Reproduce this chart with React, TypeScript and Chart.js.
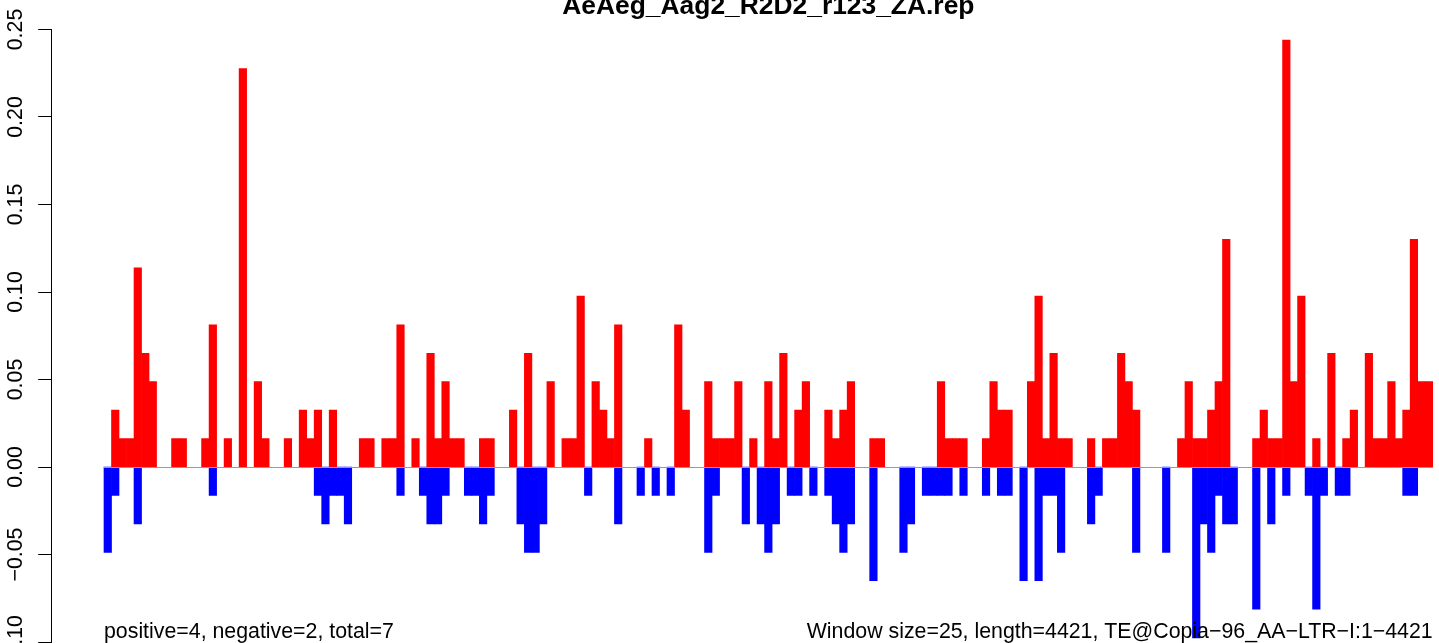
import React, { useEffect, useRef } from 'react';
import { Chart, registerables } from 'chart.js';

Chart.register(...registerables);

const TITLE = 'AeAeg_Aag2_R2D2_r123_ZA.rep';
const LEFT_NOTE = 'positive=4, negative=2, total=7';
const RIGHT_NOTE = 'Window size=25, length=4421, TE@Copia\u221296_AA\u2212LTR\u2212I:1\u22124421';

// 177 windows of 25 nt over the 4421 nt element (window index on the x axis)
const WINDOW_COUNT = 177;
const windowIndex = Array.from({ length: WINDOW_COUNT }, (_, i) => i);

// Y axis ticks
const yMin = -0.1;
const yMax = 0.25;
const yStep = 0.05;

// Positive-strand values per window
const positiveValues = [
  0, 0.0325, 0.0163, 0.0163, 0.1138, 0.065, 0.0488, 0, 0, 0.0163,
  0.0163, 0, 0, 0.0163, 0.0813, 0, 0.0163, 0, 0.2276, 0,
  0.0488, 0.0163, 0, 0, 0.0163, 0, 0.0325, 0.0163, 0.0325, 0,
  0.0325, 0, 0, 0, 0.0163, 0.0163, 0, 0.0163, 0.0163, 0.0813,
  0, 0.0163, 0, 0.065, 0.0163, 0.0488, 0.0163, 0.0163, 0, 0,
  0.0163, 0.0163, 0, 0, 0.0325, 0, 0.065, 0, 0, 0.0488,
  0, 0.0163, 0.0163, 0.0976, 0, 0.0488, 0.0325, 0.0163, 0.0813, 0,
  0, 0, 0.0163, 0, 0, 0, 0.0813, 0.0325, 0, 0,
  0.0488, 0.0163, 0.0163, 0.0163, 0.0488, 0, 0.0163, 0, 0.0488, 0.0163,
  0.065, 0, 0.0325, 0.0488, 0, 0, 0.0325, 0.0163, 0.0325, 0.0488,
  0, 0, 0.0163, 0.0163, 0, 0, 0, 0, 0, 0,
  0, 0.0488, 0.0163, 0.0163, 0.0163, 0, 0, 0.0163, 0.0488, 0.0325,
  0.0325, 0, 0, 0.0488, 0.0976, 0.0163, 0.065, 0.0163, 0.0163, 0,
  0, 0.0163, 0, 0.0163, 0.0163, 0.065, 0.0488, 0.0325, 0, 0,
  0, 0, 0, 0.0163, 0.0488, 0.0163, 0.0163, 0.0325, 0.0488, 0.1301,
  0, 0, 0, 0.0163, 0.0325, 0.0163, 0.0163, 0.2439, 0.0488, 0.0976,
  0, 0.0163, 0, 0.065, 0, 0.0163, 0.0325, 0, 0.065, 0.0163,
  0.0163, 0.0488, 0.0163, 0.0325, 0.1301, 0.0488, 0.0488,
];

// Negative-strand values per window
const negativeValues = [
  -0.0488, -0.0163, 0, 0, -0.0325, 0, 0, 0, 0, 0,
  0, 0, 0, 0, -0.0163, 0, 0, 0, 0, 0,
  0, 0, 0, 0, 0, 0, 0, 0, -0.0163, -0.0325,
  -0.0163, -0.0163, -0.0325, 0, 0, 0, 0, 0, 0, -0.0163,
  0, 0, -0.0163, -0.0325, -0.0325, -0.0163, 0, 0, -0.0163, -0.0163,
  -0.0325, -0.0163, 0, 0, 0, -0.0325, -0.0488, -0.0488, -0.0325, 0,
  0, 0, 0, 0, -0.0163, 0, 0, 0, -0.0325, 0,
  0, -0.0163, 0, -0.0163, 0, -0.0163, 0, 0, 0, 0,
  -0.0488, -0.0163, 0, 0, 0, -0.0325, 0, -0.0325, -0.0488, -0.0325,
  0, -0.0163, -0.0163, 0, -0.0163, 0, -0.0163, -0.0325, -0.0488, -0.0325,
  0, 0, -0.065, 0, 0, 0, -0.0488, -0.0325, 0, -0.0163,
  -0.0163, -0.0163, -0.0163, 0, -0.0163, 0, 0, -0.0163, 0, -0.0163,
  -0.0163, 0, -0.065, 0, -0.065, -0.0163, -0.0163, -0.0488, 0, 0,
  0, -0.0325, -0.0163, 0, 0, 0, 0, -0.0488, 0, 0,
  0, -0.0488, 0, 0, 0, -0.0976, -0.0325, -0.0488, -0.0163, -0.0325,
  -0.0325, 0, 0, -0.0813, 0, -0.0325, 0, -0.0163, 0, 0,
  -0.0163, -0.0813, -0.0163, 0, -0.0163, -0.0163, 0, 0, 0, 0,
  0, 0, 0, -0.0163, -0.0163, 0, 0,
];

const FONT_FAMILY = '"Liberation Sans", Arial, Helvetica, sans-serif';

const annotatePlugin = {
  id: 'annotate',
  afterDatasetsDraw(chart: any) {
    const { ctx, scales } = chart;
    const x = scales.x;
    const y = scales.y;
    const x0 = x.getPixelForValue(-0.5);
    const x1 = x.getPixelForValue(WINDOW_COUNT - 0.5);
    const y0 = Math.round(y.getPixelForValue(0)) + 0.5;
    ctx.save();
    ctx.strokeStyle = '#9a9a9a';
    ctx.lineWidth = 1;
    ctx.beginPath();
    ctx.moveTo(x0, y0);
    ctx.lineTo(x1, y0);
    ctx.stroke();
    ctx.restore();
  },
  afterDraw(chart: any) {
    const { ctx, scales } = chart;
    const x = scales.x;
    const x0 = x.getPixelForValue(-0.5);
    const x1 = x.getPixelForValue(WINDOW_COUNT - 0.5);
    ctx.save();
    ctx.fillStyle = '#000';
    ctx.textBaseline = 'alphabetic';
    ctx.font = `bold 26.4px ${FONT_FAMILY}`;
    ctx.textAlign = 'center';
    ctx.fillText(TITLE, (x0 + x1) / 2, 14);
    ctx.font = `21.33px ${FONT_FAMILY}`;
    ctx.textAlign = 'left';
    ctx.fillText(LEFT_NOTE, x0, 638);
    ctx.textAlign = 'right';
    ctx.fillText(RIGHT_NOTE, x1, 638);
    ctx.restore();
  },
};

export default function App() {
  const canvasRef = useRef<HTMLCanvasElement | null>(null);

  useEffect(() => {
    const canvas = canvasRef.current;
    if (!canvas) return;
    const chart = new Chart(canvas, {
      type: 'bar',
      data: {
        datasets: [
          {
            label: 'positive',
            data: windowIndex.map((w, i) => ({ x: w, y: positiveValues[i] === 0 ? null : positiveValues[i] })),
            backgroundColor: '#ff0000',
            borderWidth: 0,
            grouped: false,
            barPercentage: 1,
            categoryPercentage: 1,
          } as any,
          {
            label: 'negative',
            data: windowIndex.map((w, i) => ({ x: w, y: negativeValues[i] === 0 ? null : negativeValues[i] })),
            backgroundColor: '#0000ff',
            borderWidth: 0,
            grouped: false,
            barPercentage: 1,
            categoryPercentage: 1,
          } as any,
        ],
      },
      options: {
        animation: false,
        responsive: false,
        devicePixelRatio: 1,
        layout: { padding: { top: 29.5, bottom: 1, left: 0, right: 0 } },
        plugins: {
          legend: { display: false },
          tooltip: { enabled: false },
          title: { display: false },
        },
        scales: {
          x: {
            type: 'linear',
            min: -7.56,
            max: 177.34,
            offset: false,
            bounds: 'data',
            grace: 0,
            display: false,
          },
          y: {
            type: 'linear',
            min: yMin,
            max: yMax,
            afterFit(scale: any) {
              scale.width = 51;
              scale.paddingTop = 0;
              scale.paddingBottom = 0;
            },
            ticks: {
              stepSize: yStep,
              minRotation: 90,
              maxRotation: 90,
              crossAlign: 'center',
              padding: -4.6,
              color: '#000',
              font: { family: FONT_FAMILY, size: 21.33 },
              callback: (v: any) => {
                const n = Math.abs(Number(v)) < 1e-9 ? 0 : Number(v);
                return n.toFixed(2).replace('-', '\u2212');
              },
            },
            grid: {
              display: true,
              drawOnChartArea: false,
              drawTicks: true,
              tickLength: 12.8,
              color: '#000',
              lineWidth: 1,
            },
            border: { display: true, color: '#000', width: 1 },
          },
        } as any,
      },
      plugins: [annotatePlugin],
    });
    return () => chart.destroy();
  }, []);

  return (
    <div style={{ position: 'fixed', left: 0, top: 0, width: 1439, height: 643, background: '#fff' }}>
      <canvas ref={canvasRef} width={1439} height={643} style={{ display: 'block' }} />
    </div>
  );
}
